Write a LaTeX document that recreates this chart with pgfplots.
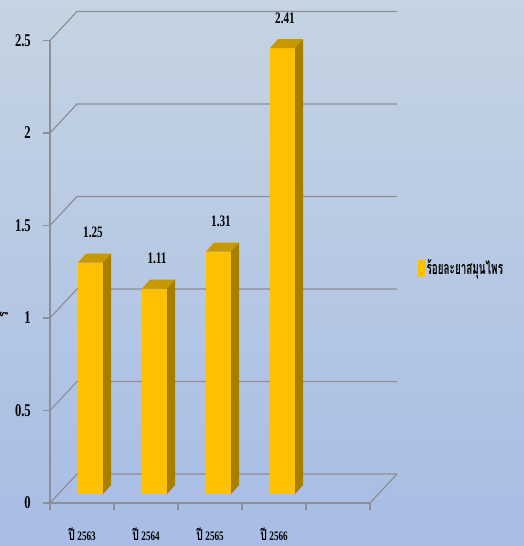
\documentclass[border=0pt]{standalone}
\usepackage{fontspec}
\setmainfont{Liberation Serif}[FakeStretch=0.7]
\newfontfamily\thaifont[Script=Thai,FakeStretch=0.7]{Loma}
\newfontfamily\thaileg[Script=Thai,FakeStretch=0.55]{Loma}
\usepackage{pgfplots}
\pgfplotsset{compat=1.18}
\usepackage{pgfplotstable}
\definecolor{barfront}{RGB}{255,192,0}
\definecolor{bartop}{RGB}{200,152,0}
\definecolor{barside}{RGB}{166,127,0}
\definecolor{bgtop}{RGB}{197,212,226}
\definecolor{bgbot}{RGB}{168,188,229}
\definecolor{gridc}{RGB}{140,143,150}

\pgfplotstableread{
x y
0.5 1.25
1.5 1.11
2.5 1.31
3.5 2.41
}\datatable

\pgfdeclareplotmark{bar3d}{%
  \pgfmathsetmacro\Hb{9-\yv*185}%
  \pgfmathsetmacro\Hs{18-\yv*185}%
  \pgfsetfillcolor{barfront}%
  \pgfpathmoveto{\pgfpoint{-4pt}{\Hb pt}}%
  \pgfpathlineto{\pgfpoint{21pt}{\Hb pt}}%
  \pgfpathlineto{\pgfpoint{21pt}{9pt}}%
  \pgfpathlineto{\pgfpoint{-4pt}{9pt}}%
  \pgfpathclose
  \pgfusepath{fill}%
  \pgfsetfillcolor{bartop}%
  \pgfpathmoveto{\pgfpoint{-4pt}{9pt}}%
  \pgfpathlineto{\pgfpoint{21pt}{9pt}}%
  \pgfpathlineto{\pgfpoint{29pt}{18pt}}%
  \pgfpathlineto{\pgfpoint{4pt}{18pt}}%
  \pgfpathclose
  \pgfusepath{fill}%
  \pgfsetfillcolor{barside}%
  \pgfpathmoveto{\pgfpoint{21pt}{\Hb pt}}%
  \pgfpathlineto{\pgfpoint{29pt}{\Hs pt}}%
  \pgfpathlineto{\pgfpoint{29pt}{18pt}}%
  \pgfpathlineto{\pgfpoint{21pt}{9pt}}%
  \pgfpathclose
  \pgfusepath{fill}%
}

\begin{document}
\begin{tikzpicture}
\useasboundingbox (0,0) rectangle (524pt,546pt);
\clip (0,0) rectangle (524pt,546pt);
\shade[top color=bgtop, bottom color=bgbot] (0,0) rectangle (524pt,546pt);
\node[rotate=90] at (4pt,231pt) {\thaifont\bfseries\fontsize{15}{15}\selectfont ร};
\begin{axis}[
  at={(50pt,43pt)}, anchor=origin,
  x=64pt, y=185pt,
  xmin=0, xmax=5, ymin=0, ymax=2.5,
  clip=false,
  axis lines=left,
  axis line style={gridc, line width=1.2pt, -},
  tick style={gridc, line width=1.2pt},
  tick align=outside, major tick length=7pt,
  /pgf/number format/assume math mode=true,
  ytick={0,0.5,1,1.5,2,2.5},
  yticklabel style={font=\fontsize{18}{18}\selectfont\bfseries, anchor=east, inner sep=0pt, xshift=-12pt},
  xtick={0,1,2,3,4,5},
  xticklabels={},
  extra x ticks={0.5,1.5,2.5,3.5},
  extra x tick labels={
    {{\thaifont ปี}\,{\fontsize{13}{13}\selectfont 2563}},
    {{\thaifont ปี}\,{\fontsize{13}{13}\selectfont 2564}},
    {{\thaifont ปี}\,{\fontsize{13}{13}\selectfont 2565}},
    {{\thaifont ปี}\,{\fontsize{13}{13}\selectfont 2566}}},
  extra x tick style={major tick length=0pt,
    xticklabel style={font=\fontsize{15}{15}\selectfont\bfseries, anchor=center, yshift=-31pt}},
  legend style={at={(rel axis cs:1.15,0.508)}, anchor=west, draw=none, fill=none,
    font=\thaileg\bfseries\fontsize{18}{18}\selectfont, inner sep=0pt},
]
\pgfplotsinvokeforeach{0,0.5,1,1.5,2,2.5}{
  \draw[gridc, line width=1.2pt] (axis cs:0,#1) -- ([shift={(27pt,29pt)}]axis cs:0,#1) -- ([shift={(27pt,29pt)}]axis cs:5,#1);
}
\draw[gridc, line width=1.2pt] (axis cs:5,0) -- ([shift={(27pt,29pt)}]axis cs:5,0);
\addplot[scatter, only marks, mark=bar3d, point meta=y,
  visualization depends on={rawy \as \yv},
  nodes near coords={\pgfmathprintnumber[fixed,fixed zerofill,precision=2]{\pgfplotspointmeta}},
  every node near coord/.style={anchor=center, xshift=11pt, yshift=39pt, text=black,
    font=\fontsize{16}{16}\selectfont\bfseries},
  legend image code/.code={\fill[barfront] (0pt,-8pt) rectangle (6pt,8pt);}
] table[x=x, y=y] {\datatable};
\addlegendentry{ร้อยละยาสมุนไพร}
\end{axis}
\end{tikzpicture}
\end{document}
